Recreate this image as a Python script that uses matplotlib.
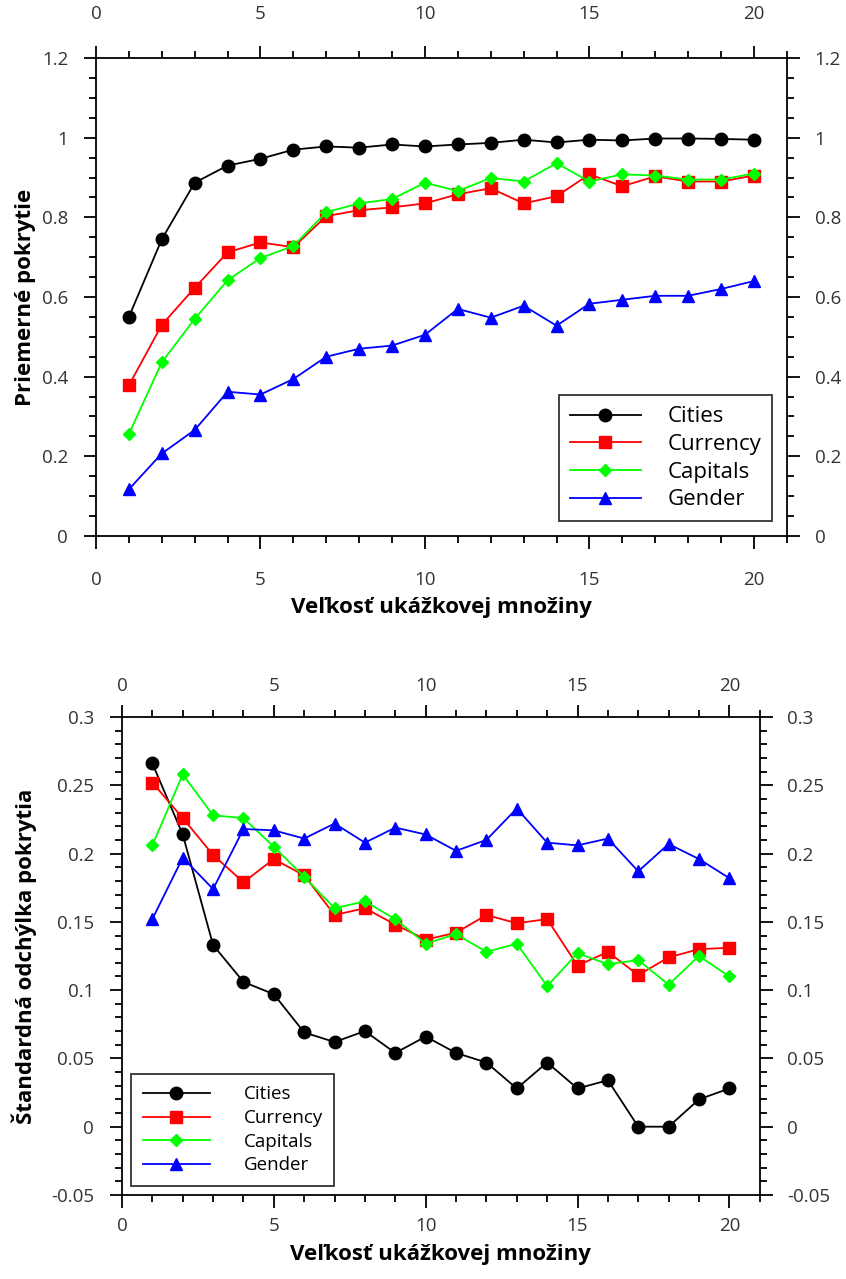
import matplotlib
matplotlib.use('Agg')
from matplotlib import pyplot as plt
from matplotlib.ticker import MultipleLocator, FuncFormatter

plt.rcParams['font.family'] = ['Open Sans', 'DejaVu Sans']

sizes = list(range(1, 21))

# priemerne pokrytie
cities_mean = [0.550, 0.745, 0.887, 0.930, 0.947, 0.970, 0.978, 0.975, 0.983, 0.978,
               0.983, 0.987, 0.995, 0.988, 0.995, 0.993, 0.998, 0.998, 0.997, 0.995]
currency_mean = [0.378, 0.530, 0.623, 0.712, 0.737, 0.725, 0.803, 0.818, 0.825, 0.835,
                 0.858, 0.873, 0.835, 0.853, 0.908, 0.878, 0.903, 0.890, 0.890, 0.905]
capitals_mean = [0.256, 0.436, 0.545, 0.642, 0.698, 0.728, 0.813, 0.835, 0.846, 0.887,
                 0.866, 0.899, 0.890, 0.936, 0.890, 0.908, 0.905, 0.895, 0.895, 0.910]
gender_mean = [0.117, 0.207, 0.266, 0.362, 0.355, 0.394, 0.450, 0.470, 0.478, 0.505,
               0.570, 0.548, 0.578, 0.528, 0.583, 0.593, 0.603, 0.603, 0.620, 0.640]

# standardna odchylka
cities_std = [0.266, 0.214, 0.133, 0.106, 0.097, 0.069, 0.062, 0.070, 0.054, 0.066,
              0.054, 0.047, 0.028, 0.047, 0.028, 0.034, 0.000, 0.000, 0.020, 0.028]
currency_std = [0.252, 0.226, 0.199, 0.179, 0.196, 0.184, 0.155, 0.160, 0.148, 0.137,
                0.142, 0.155, 0.149, 0.152, 0.118, 0.128, 0.111, 0.124, 0.130, 0.131]
capitals_std = [0.206, 0.258, 0.228, 0.226, 0.205, 0.183, 0.160, 0.165, 0.152, 0.134,
                0.141, 0.128, 0.134, 0.103, 0.127, 0.119, 0.122, 0.104, 0.125, 0.110]
gender_std = [0.152, 0.197, 0.174, 0.218, 0.217, 0.211, 0.222, 0.208, 0.219, 0.214,
              0.202, 0.210, 0.233, 0.208, 0.206, 0.211, 0.187, 0.207, 0.196, 0.182]

labels = ['Cities', 'Currency', 'Capitals', 'Gender']
styles = [('k', 'o', 9), ('r', 's', 9), ('#00ff00', 'D', 6), ('b', '^', 9)]

fig = plt.figure(figsize=(8.46, 12.79), dpi=100)
ax1 = fig.add_axes([0.1135, 0.581, 0.8165, 0.3736])
ax2 = fig.add_axes([0.1442, 0.0657, 0.7538, 0.3737])

fmt = FuncFormatter(lambda v, p: '%g' % round(v, 2))


def style_axis(ax, ymin, ymax, ymaj, ymin_step, ylabel, xpad, ylabelpad):
    ax.set_xlim(0, 21)
    ax.set_ylim(ymin, ymax)
    ax.xaxis.set_major_locator(MultipleLocator(5))
    ax.xaxis.set_minor_locator(MultipleLocator(1))
    ax.yaxis.set_major_locator(MultipleLocator(ymaj))
    ax.yaxis.set_minor_locator(MultipleLocator(ymin_step))
    ax.yaxis.set_major_formatter(fmt)
    ax.tick_params(which='both', direction='out', top=True, right=True,
                   labeltop=True, labelright=True, width=1.3,
                   labelsize=13.5, labelcolor='#333333')
    ax.tick_params(axis='x', which='both', pad=xpad)
    ax.tick_params(axis='y', which='both', pad=11)
    ax.tick_params(which='major', length=9)
    ax.tick_params(which='minor', length=5)
    for s in ax.spines.values():
        s.set_linewidth(1.3)
    ax.set_xlabel('Veľkosť ukážkovej množiny', fontsize=16, fontweight='bold', labelpad=6)
    ax.set_ylabel(ylabel, fontsize=16, fontweight='bold', labelpad=ylabelpad)


for ser, lab, (c, m, ms) in zip([cities_mean, currency_mean, capitals_mean, gender_mean], labels, styles):
    ax1.plot(sizes, ser, color=c, marker=m, markersize=ms, linewidth=1.3, label=lab)
style_axis(ax1, 0, 1.2, 0.2, 0.05, 'Priemerné pokrytie', 16, 4)
leg1 = ax1.legend(loc='lower right', fontsize=16, fancybox=False, edgecolor='k',
                  borderaxespad=0.65, handlelength=3.2, labelspacing=0.3, handletextpad=1.2,
                  borderpad=0.5)
leg1.get_frame().set_linewidth(1.3)

for ser, lab, (c, m, ms) in zip([cities_std, currency_std, capitals_std, gender_std], labels, styles):
    ax2.plot(sizes, ser, color=c, marker=m, markersize=ms, linewidth=1.3, label=lab)
style_axis(ax2, -0.05, 0.3, 0.05, 0.01, 'Štandardná odchýlka pokrytia', 7, 10)
leg2 = ax2.legend(loc='lower left', fontsize=13.5, fancybox=False, edgecolor='k',
                  borderaxespad=0.5, handlelength=3.6, labelspacing=0.3, handletextpad=1.8,
                  borderpad=0.6)
leg2.get_frame().set_linewidth(1.3)

fig.savefig('out.png', dpi=100)
